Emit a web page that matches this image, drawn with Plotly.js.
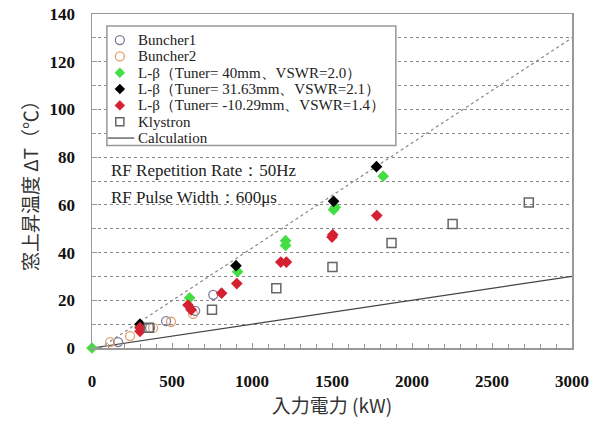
<!DOCTYPE html>
<html><head><meta charset="utf-8">
<script src="https://cdn.plot.ly/plotly-3.0.1.min.js"></script>
<style>html,body{margin:0;padding:0;background:#fff}#c{width:594px;height:423px}</style>
</head><body><div id="c"></div>
<script>
const b1X = [163, 363, 463, 645, 758];
const b1Y = [2.5, 8.4, 11.3, 15.6, 22.3];
const b2X = [113, 238, 382, 494, 632];
const b2Y = [2.5, 5, 8.4, 11, 14.3];
const g40X = [0, 300, 610, 910, 1210, 1210, 1510, 1520, 1820];
const g40Y = [0, 9, 21, 32, 43, 45, 58, 59, 72];
const k316X = [300, 900, 1510, 1778];
const k316Y = [10, 34.5, 61.5, 76];
const r103X = [300, 300, 600, 620, 810, 905, 1180, 1215, 1500, 1505, 1780];
const r103Y = [7, 8.5, 18, 16, 23, 27, 36, 36, 46.5, 47.5, 55.5];
const klyX = [355, 750, 1152, 1503, 1872, 2254, 2730];
const klyY = [8.5, 16, 25, 34, 44, 52, 61];
const calcX = [0, 3000];
const calcY = [0, 30];
const fitX = [50, 3000];
const fitY = [0, 130];
const names = ["Buncher1", "Buncher2", "L-β（Tuner= 40mm、VSWR=2.0）", "L-β（Tuner= 31.63mm、VSWR=2.1）", "L-β（Tuner= -10.29mm、VSWR=1.4）", "Klystron", "Calculation"];
const notes = ["RF Repetition Rate：50Hz", "RF Pulse Width：600μs"];

const serif = "Liberation Serif, Times New Roman, serif";
const mk = [
  {symbol: "circle-open", size: 9, color: "#7a7a9a", line: {width: 1.3}},
  {symbol: "circle-open", size: 9, color: "#e0a070", line: {width: 1.3}},
  {symbol: "diamond", size: 9, color: "#44dd44"},
  {symbol: "diamond", size: 9, color: "#000000"},
  {symbol: "diamond", size: 9, color: "#d42030"},
  {symbol: "square-open", size: 9, color: "#666666", line: {width: 1.5}}
];
const series = [[b1X, b1Y], [b2X, b2Y], [g40X, g40Y], [k316X, k316Y], [r103X, r103Y], [klyX, klyY]];

const traces = [
  {x: fitX, y: fitY, mode: "lines", line: {color: "#888", width: 1.2, dash: "dot"}, hoverinfo: "skip"},
  {x: calcX, y: calcY, name: names[6], mode: "lines", line: {color: "#444", width: 1.2}}
];
series.forEach((s, i) => traces.push({x: s[0], y: s[1], name: names[i], mode: "markers", marker: mk[i], cliponaxis: false}));

// manual legend (compact spacing like the reference), drawn as shapes above the grid
const PW = 480, PH = 334;
const legTop = 0.922, legStep = 0.0489, symX = 0.058, txtX = 0.092;
const annotations = [];
const shapes = [
  {type: "rect", xref: "paper", yref: "paper", x0: 0.031, x1: 0.633, y0: 0.606, y1: 0.964, line: {color: "#999", width: 1.5}, fillcolor: "#fff", layer: "above"}
];
function legSymbol(m, cx, cy) {
  const r = m.size / 2, dx = r / PW, dy = r / PH;
  if (m.symbol === "circle-open") {
    return {type: "circle", xref: "paper", yref: "paper", x0: cx - dx, x1: cx + dx, y0: cy - dy, y1: cy + dy,
            line: {color: m.color, width: m.line.width}, fillcolor: "rgba(0,0,0,0)", layer: "above"};
  }
  if (m.symbol === "square-open") {
    const ex = dx * 0.9, ey = dy * 0.9;
    return {type: "rect", xref: "paper", yref: "paper", x0: cx - ex, x1: cx + ex, y0: cy - ey, y1: cy + ey,
            line: {color: m.color, width: m.line.width}, fillcolor: "rgba(0,0,0,0)", layer: "above"};
  }
  const ex = dx * 1.1, ey = dy * 1.1;
  return {type: "path", xref: "paper", yref: "paper",
          path: `M ${cx - ex} ${cy} L ${cx} ${cy + ey} L ${cx + ex} ${cy} L ${cx} ${cy - ey} Z`,
          line: {color: m.color, width: 0.5}, fillcolor: m.color, layer: "above"};
}
names.forEach((n, i) => {
  const yy = legTop - i * legStep;
  annotations.push({text: n, xref: "paper", yref: "paper", x: txtX, y: yy, xanchor: "left", yanchor: "middle", showarrow: false,
    font: {family: serif, size: 15, color: "#222"}});
  if (i < 6) {
    shapes.push(legSymbol(mk[i], symX, yy));
  } else {
    shapes.push({type: "line", xref: "paper", yref: "paper", x0: 0.033, x1: 0.088, y0: yy, y1: yy, line: {color: "#444", width: 1.2}, layer: "above"});
  }
});
notes.forEach((t, i) => annotations.push({text: t, xref: "paper", yref: "paper", x: 0.035, y: 0.532 - i * 0.08, xanchor: "left", yanchor: "middle",
  showarrow: false, font: {family: serif, size: 17, color: "#222"}}));

const layout = {
  width: 594, height: 423,
  margin: {l: 92, r: 22, t: 14, b: 75},
  paper_bgcolor: "#fff", plot_bgcolor: "#fff",
  showlegend: false,
  xaxis: {range: [0, 3000], dtick: 500, ticks: "inside", ticklen: 5, tickcolor: "#999",
          showline: true, linecolor: "#999", linewidth: 1.5, mirror: true, showgrid: false, zeroline: false,
          minor: {dtick: 100, ticks: "inside", ticklen: 4, tickcolor: "#999", showgrid: false},
          ticklabelstandoff: 17,
          tickfont: {family: serif, size: 17, color: "#111", weight: "bold"},
          title: {text: "入力電力 (kW)", font: {family: "Noto Sans CJK JP", size: 19, color: "#333"}, standoff: 9}},
  yaxis: {range: [0, 140], dtick: 20, ticks: "inside", ticklen: 5, tickcolor: "#999",
          showline: true, linecolor: "#999", linewidth: 1.5, mirror: true, zeroline: false,
          showgrid: true, gridcolor: "#888", griddash: "dot", gridwidth: 1,
          minor: {dtick: 10, ticks: "inside", ticklen: 4, tickcolor: "#999", showgrid: true, gridcolor: "#888", griddash: "dot", gridwidth: 1},
          ticklabelstandoff: 12,
          tickfont: {family: serif, size: 17, color: "#111", weight: "bold"},
          title: {text: "窓上昇温度 ΔT（℃）", font: {family: "Noto Sans CJK JP", size: 19, color: "#333"}, standoff: 6}},
  shapes: shapes,
  annotations: annotations
};
Plotly.newPlot("c", traces, layout, {displayModeBar: false, staticPlot: true});
</script></body></html>
